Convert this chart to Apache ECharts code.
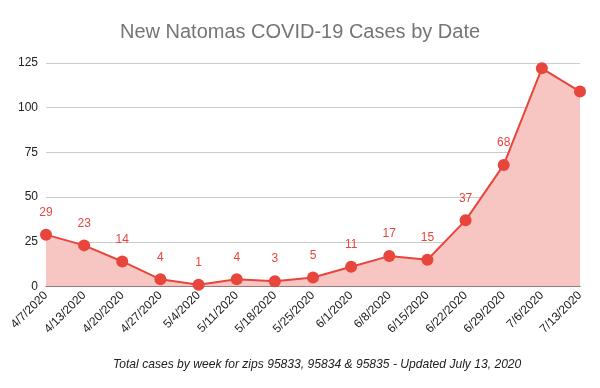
<!DOCTYPE html>
<html>
<head>
<meta charset="utf-8">
<script src="https://cdn.jsdelivr.net/npm/echarts@6/dist/echarts.min.js"></script>
<style>html,body{margin:0;padding:0;background:#fff}#c{width:600px;height:388px}</style>
</head>
<body>
<div id="c"></div>
<script>
const categories = ['4/7/2020','4/13/2020','4/20/2020','4/27/2020','5/4/2020','5/11/2020','5/18/2020','5/25/2020','6/1/2020','6/8/2020','6/15/2020','6/22/2020','6/29/2020','7/6/2020','7/13/2020'];
const cases = [29, 23, 14, 4, 1, 4, 3, 5, 11, 17, 15, 37, 68, 122, 109];
const labelled = [true,true,true,true,true,true,true,true,true,true,true,true,true,false,false];
const yTicks = [0, 25, 50, 75, 100, 125];

const chart = echarts.init(document.getElementById('c'), null, {renderer:'canvas'});
chart.setOption({
  animation: false,
  backgroundColor: '#fff',
  title: [{
    text: 'New Natomas COVID-19 Cases by Date',
    left: 'center', top: 17,
    textStyle: {fontFamily: 'Arial, Liberation Sans, sans-serif', fontSize: 20, fontWeight: 'normal', color: '#757575'}
  },{
    text: 'Total cases by week for zips 95833, 95834 & 95835 - Updated July 13, 2020',
    left: 108, top: 354,
    textStyle: {fontFamily: 'Arial, Liberation Sans, sans-serif', fontSize: 12.1, fontStyle: 'italic', fontWeight: 'normal', color: '#222'}
  }],
  grid: {left: 46, right: 20, top: 63, bottom: 101.5, containLabel: false},
  xAxis: {
    type: 'category', data: categories, boundaryGap: false,
    axisLine: {lineStyle: {color: '#333', width: 1}},
    axisTick: {show: false},
    axisLabel: {rotate: 45, interval: 0, fontFamily: 'Arial, Liberation Sans, sans-serif', fontSize: 12, color: '#222', margin: 7},
    splitLine: {show: false}
  },
  yAxis: {
    type: 'value', min: yTicks[0], max: yTicks[yTicks.length-1], interval: 25,
    axisLine: {show: false}, axisTick: {show: false},
    axisLabel: {fontFamily: 'Arial, Liberation Sans, sans-serif', fontSize: 12, color: '#222', margin: 8},
    splitLine: {lineStyle: {color: '#cccccc', width: 1}}
  },
  series: [{
    type: 'line',
    data: cases.map((v, i) => ({value: v, label: {show: labelled[i]}})),
    symbol: 'circle', symbolSize: 12,
    lineStyle: {color: '#e8453c', width: 2},
    itemStyle: {color: '#e8453c'},
    areaStyle: {color: '#f8c6c2', opacity: 1},
    label: {show: true, position: 'top', distance: 10, color: '#e8453c', fontFamily: 'Arial, Liberation Sans, sans-serif', fontSize: 12},
    z: 3
  }]
});
</script>
</body>
</html>
